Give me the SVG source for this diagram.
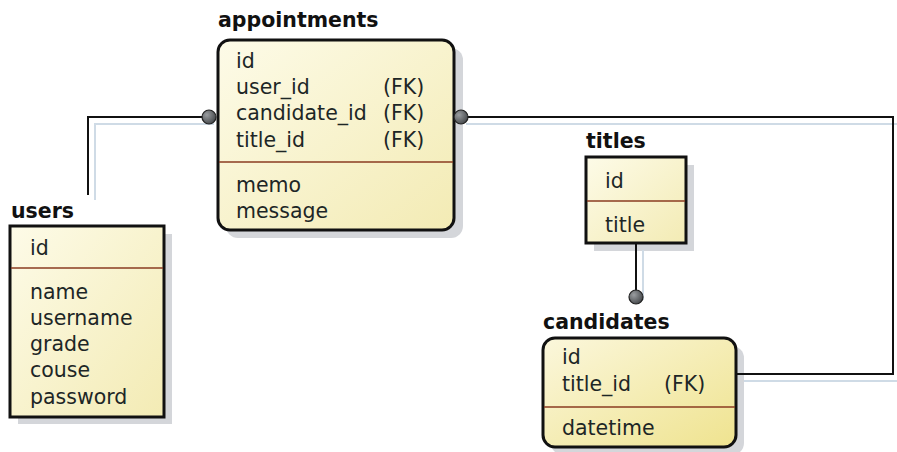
<svg xmlns="http://www.w3.org/2000/svg" width="897" height="452" viewBox="0 0 897 452">
<defs>
<linearGradient id="g1" x1="0" y1="0" x2="1" y2="1">
<stop offset="0" stop-color="#fdfbe8"/>
<stop offset="1" stop-color="#f3ebb4"/>
</linearGradient>
<linearGradient id="g2" x1="0" y1="0" x2="1" y2="1">
<stop offset="0" stop-color="#fbf7dc"/>
<stop offset="1" stop-color="#efe38f"/>
</linearGradient>
<radialGradient id="gd" cx="0.35" cy="0.35" r="0.7">
<stop offset="0" stop-color="#9a9da0"/>
<stop offset="1" stop-color="#45484b"/>
</radialGradient>
<style>
.box{stroke:#111;stroke-width:3}
.sh{fill:#d4d6da}
.div{stroke:#8a3b20;stroke-width:1.5}
.t{font-family:"DejaVu Sans",sans-serif;font-size:20.5px;fill:#1d2626}
.h{font-family:"DejaVu Sans",sans-serif;font-size:20.5px;font-weight:bold;fill:#111}
.ln{fill:none;stroke:#111;stroke-width:2}
.lsh{fill:none;stroke:#cfdbe6;stroke-width:2}
.dot{fill:url(#gd);stroke:#222;stroke-width:1.2}
</style>
</defs>
<g id="appointments">
<rect class="sh" x="226" y="48" width="237" height="190" rx="12"/>
<rect class="box" x="218" y="40" width="236" height="190" rx="12" fill="url(#g1)"/>
<line class="div" x1="219" y1="162" x2="453" y2="162"/>
<text class="h" x="218" y="27">appointments</text>
<text class="t" x="236" y="68">id</text>
<text class="t" x="236" y="94">user_id</text>
<text class="t" x="236" y="120">candidate_id</text>
<text class="t" x="236" y="147">title_id</text>
<text class="t" x="383" y="94">(FK)</text>
<text class="t" x="383" y="120">(FK)</text>
<text class="t" x="383" y="147">(FK)</text>
<text class="t" x="236" y="192">memo</text>
<text class="t" x="236" y="218">message</text>
</g>
<g id="users">
<rect class="sh" x="18" y="234" width="154" height="190"/>
<rect class="box" x="10" y="226" width="154" height="191" fill="url(#g1)"/>
<line class="div" x1="11" y1="268" x2="163" y2="268"/>
<text class="h" x="11" y="218">users</text>
<text class="t" x="30" y="255">id</text>
<text class="t" x="30" y="299">name</text>
<text class="t" x="30" y="325">username</text>
<text class="t" x="30" y="351">grade</text>
<text class="t" x="30" y="377">couse</text>
<text class="t" x="30" y="404">password</text>
</g>
<g id="titles">
<rect class="sh" x="594" y="165" width="100" height="86"/>
<rect class="box" x="586" y="157" width="100" height="86" fill="url(#g1)"/>
<line class="div" x1="587" y1="201" x2="685" y2="201"/>
<text class="h" x="586" y="148">titles</text>
<text class="t" x="605" y="188">id</text>
<text class="t" x="605" y="232">title</text>
</g>
<g id="candidates">
<rect class="sh" x="551" y="346" width="193" height="109" rx="12"/>
<rect class="box" x="543" y="338" width="193" height="109" rx="12" fill="url(#g2)"/>
<line class="div" x1="544" y1="407" x2="735" y2="407"/>
<text class="h" x="543" y="329">candidates</text>
<text class="t" x="562" y="364">id</text>
<text class="t" x="562" y="391">title_id</text>
<text class="t" x="664" y="391">(FK)</text>
<text class="t" x="562" y="435">datetime</text>
</g>
<g id="connectors">
<path class="lsh" d="M95 200 V124 H214"/>
<path class="lsh" d="M466 124 H897"/>
<path class="lsh" d="M643 250 V300"/>
<path class="lsh" d="M744 381 H897"/>
<path class="ln" d="M88 195 V117 H209"/>
<path class="ln" d="M461 117 H893 V374 H737"/>
<path class="ln" d="M636 244 V297"/>
<circle class="dot" cx="209" cy="117" r="7"/>
<circle class="dot" cx="461" cy="117" r="7"/>
<circle class="dot" cx="636" cy="297" r="7"/>
</g>
</svg>
